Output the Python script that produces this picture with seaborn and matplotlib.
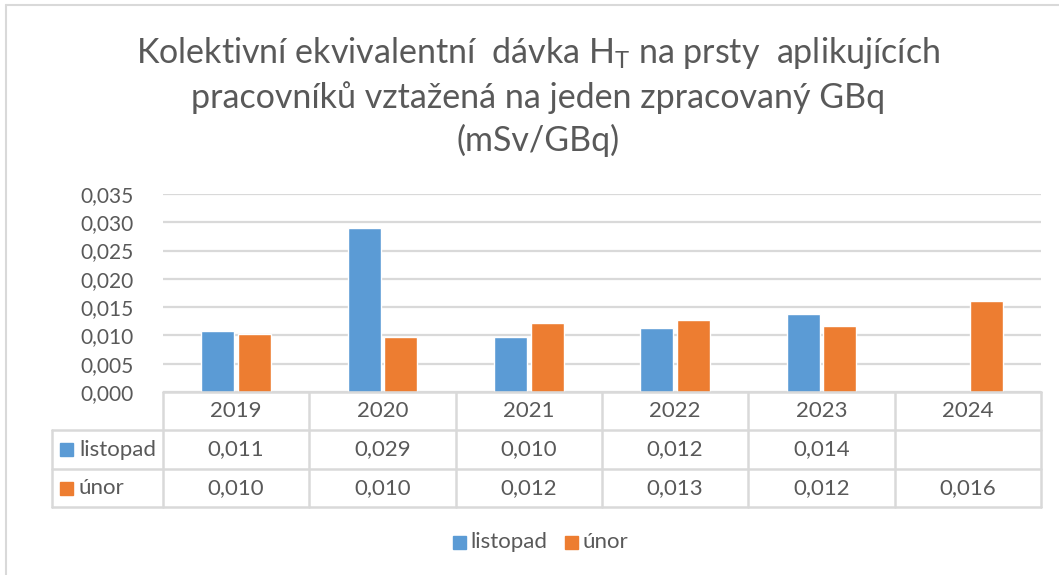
import numpy as np
import pandas as pd
import matplotlib.pyplot as plt
import seaborn as sns
from matplotlib.lines import Line2D
from matplotlib.patches import Rectangle

# -------------------------
# Data
# -------------------------
years = ["2019", "2020", "2021", "2022", "2023", "2024"]
series = ["listopad", "únor"]
listopad = [0.0108, 0.0290, 0.0097, 0.0114, 0.0138, np.nan]
unor = [0.0103, 0.0098, 0.0122, 0.0127, 0.0117, 0.0160]
listopad_table = ["0,011", "0,029", "0,010", "0,012", "0,014", ""]
unor_table = ["0,010", "0,010", "0,012", "0,013", "0,012", "0,016"]
y_ticks = [0.0, 0.005, 0.010, 0.015, 0.020, 0.025, 0.030, 0.035]

colors = ["#5B9BD5", "#ED7D31"]
grid_c = "#D9D9D9"
text_c = "#595959"

df = pd.DataFrame({
    "rok": years * 2,
    "serie": [series[0]] * len(years) + [series[1]] * len(years),
    "hodnota": listopad + unor,
})

# -------------------------
# Figure / axes in pixel layout
# -------------------------
W, H = 1059, 575
sns.set_theme(style="white")
plt.rcParams["font.family"] = ["Lato", "DejaVu Sans"]

fig = plt.figure(figsize=(W / 100, H / 100), dpi=100)
x0, x1 = 163, 1041
y_top, y_base = 194, 392
ax = fig.add_axes([x0 / W, 1 - y_base / H, (x1 - x0) / W, (y_base - y_top) / H])

sns.barplot(data=df, x="rok", y="hodnota", hue="serie", palette=colors,
            width=0.5, gap=0.1, ax=ax, legend=False, saturation=1)

ax.set_xlim(-0.5, len(years) - 0.5)
ax.set_ylim(0, 0.035)
ax.set_yticks(y_ticks)
ax.set_yticklabels([f"{v:.3f}".replace(".", ",") for v in y_ticks],
                   fontsize=15, color=text_c)
ax.tick_params(axis="y", length=0, pad=21)
ax.set_xticks([])
ax.set_xlabel("")
ax.set_ylabel("")
for s in ax.spines.values():
    s.set_visible(False)
ax.yaxis.grid(True, color=grid_c, linewidth=1.6)
ax.set_axisbelow(True)

# -------------------------
# Title
# -------------------------
title = ("Kolektivní ekvivalentní  dávka H$_\\mathregular{T}$ na prsty  aplikujících\n"
         "pracovníků vztažená na jeden zpracovaný GBq\n"
         "(mSv/GBq)")
fig.text(538 / W, 1 - 96 / H, title, ha="center", va="center",
         fontsize=24.5, color=text_c, linespacing=1.38)

# -------------------------
# Data table under the plot
# -------------------------
def fx(px):
    return px / W

def fy(py):
    return 1 - py / H

col_w = (x1 - x0) / len(years)
row_y = [392, 430, 469, 507]
lab_x = 52
lw = 1.8
fs = 16

def hline(xa, xb, y):
    fig.add_artist(Line2D([fx(xa), fx(xb)], [fy(y), fy(y)], color=grid_c, lw=lw))

def vline(x, ya, yb):
    fig.add_artist(Line2D([fx(x), fx(x)], [fy(ya), fy(yb)], color=grid_c, lw=lw))

hline(x0, x1, row_y[0])
for y in row_y[1:]:
    hline(lab_x, x1, y)
for i in range(len(years) + 1):
    vline(x0 + i * col_w, row_y[0], row_y[3])
vline(lab_x, row_y[1], row_y[3])

for i, yr in enumerate(years):
    cx = x0 + (i + 0.5) * col_w
    fig.text(fx(cx), fy((row_y[0] + row_y[1]) / 2), yr, ha="center", va="center",
             fontsize=fs, color=text_c)
    fig.text(fx(cx), fy((row_y[1] + row_y[2]) / 2), listopad_table[i], ha="center",
             va="center", fontsize=fs, color=text_c)
    fig.text(fx(cx), fy((row_y[2] + row_y[3]) / 2), unor_table[i], ha="center",
             va="center", fontsize=fs, color=text_c)

for r, (name, c) in enumerate(zip(series, colors)):
    cy = (row_y[r + 1] + row_y[r + 2]) / 2
    fig.add_artist(Rectangle((fx(60), fy(cy + 6.5)), 13 / W, 13 / H, color=c,
                             transform=fig.transFigure))
    fig.text(fx(79), fy(cy), name, ha="left", va="center", fontsize=fs, color=text_c)

# -------------------------
# Bottom legend
# -------------------------
leg_y = 542
for kx, name, c in [(453, series[0], colors[0]), (565, series[1], colors[1])]:
    fig.add_artist(Rectangle((fx(kx), fy(leg_y + 6.5)), 13 / W, 13 / H, color=c,
                             transform=fig.transFigure))
    fig.text(fx(kx + 17), fy(leg_y), name, ha="left", va="center", fontsize=fs,
             color=text_c)

# chart area border (top and left visible)
fig.add_artist(Line2D([fx(6), fx(W)], [fy(5), fy(5)], color=grid_c, lw=1.5))
fig.add_artist(Line2D([fx(6), fx(6)], [fy(5), fy(H)], color=grid_c, lw=1.5))

plt.savefig("out.png", dpi=100)
